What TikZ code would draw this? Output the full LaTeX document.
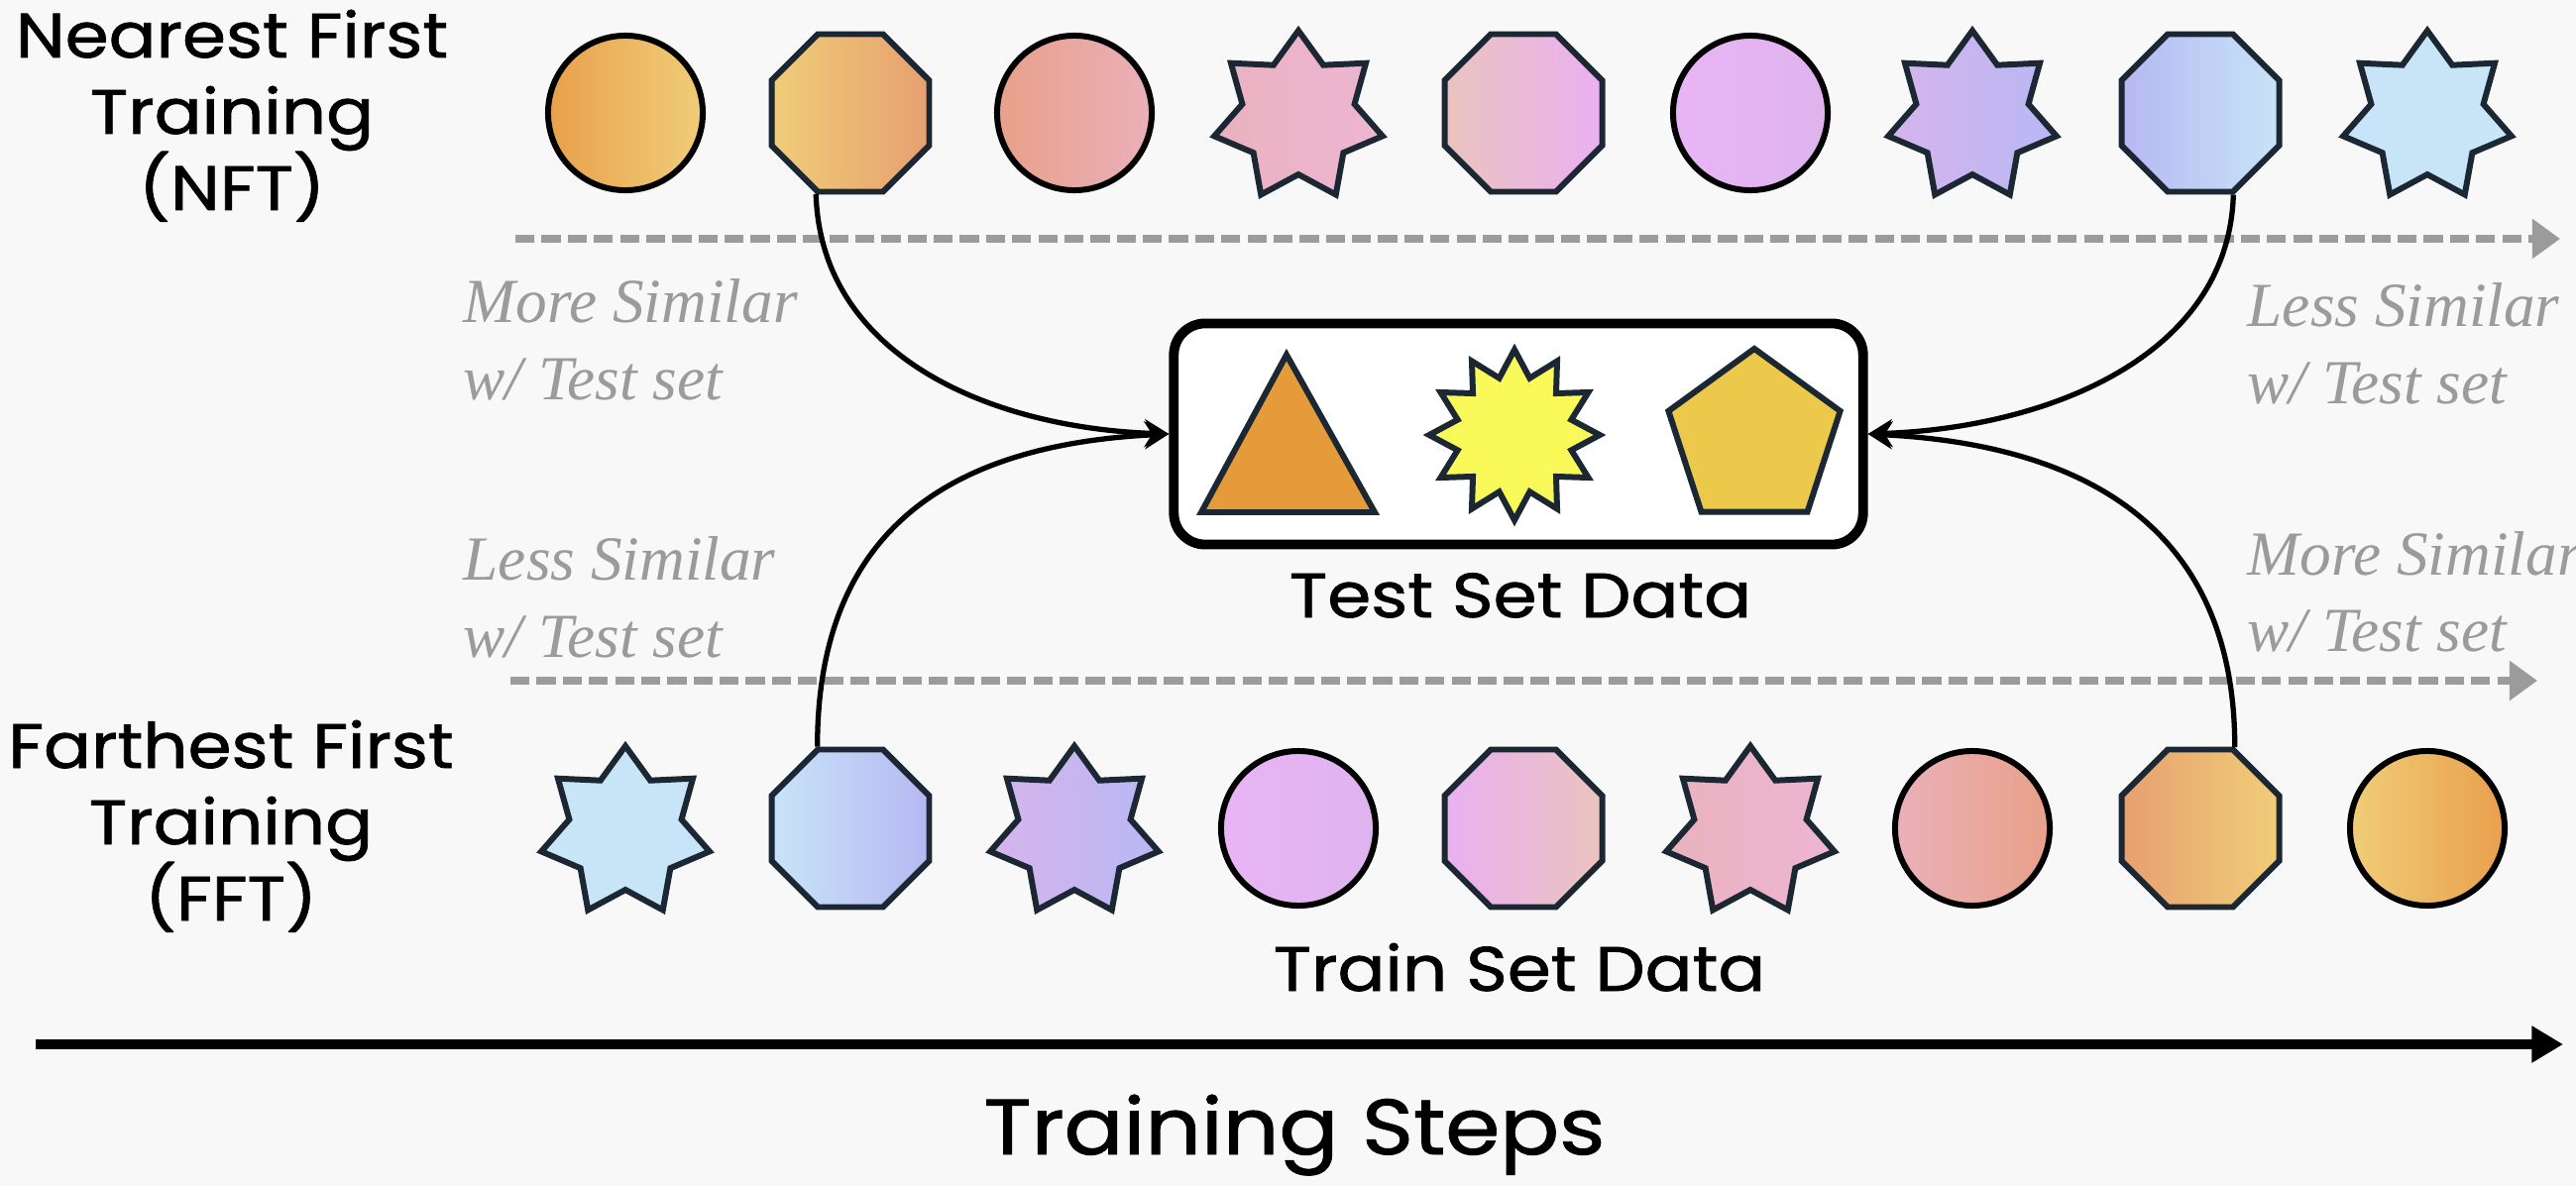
\documentclass[tikz,border=0pt]{standalone}
\usepackage{fontspec}
\usetikzlibrary{shapes.geometric, arrows.meta}
\newfontfamily\handfont{Poppins}[FakeBold=1.2, FakeStretch=1.12]
\newfontfamily\simfont{Liberation Serif}
\definecolor{bgc}{HTML}{F8F8F8}
\definecolor{edgec}{HTML}{1B2733}
\definecolor{simgray}{HTML}{9B9B9B}
\definecolor{cOrange}{HTML}{E9A04C}
\definecolor{cYellow}{HTML}{F0CD78}
\definecolor{cSalmonA}{HTML}{E6A070}
\definecolor{cSalmonB}{HTML}{E8A088}
\definecolor{cPinkA}{HTML}{EAB0BA}
\definecolor{cPinkB}{HTML}{EAB2BE}
\definecolor{cPinkC}{HTML}{EDB6D2}
\definecolor{cPeach}{HTML}{EAC4BE}
\definecolor{cViolA}{HTML}{EAB0F2}
\definecolor{cViolB}{HTML}{E9B4F5}
\definecolor{cViolC}{HTML}{DEB4EE}
\definecolor{cLavA}{HTML}{D6B4EC}
\definecolor{cLavB}{HTML}{B8B8F4}
\definecolor{cBlueA}{HTML}{B6B8F2}
\definecolor{cBlueB}{HTML}{C8E4F8}
\definecolor{cBlueC}{HTML}{C8E6F8}
\definecolor{triC}{HTML}{E69B3A}
\definecolor{burstC}{HTML}{F9F95A}
\definecolor{pentC}{HTML}{ECC94A}
\tikzset{
  shp/.style={draw=edgec, line width=1.7pt, inner sep=0pt},
  circ/.style={shp, draw=black, circle, minimum size=1.56cm},
  octa/.style={shp, regular polygon, regular polygon sides=8, minimum size=1.72cm},
  starr/.style={shp, star, star points=7, star point ratio=1.5, minimum size=1.74cm},
  grad/.style 2 args={left color=#1, right color=#2},
  hand/.style={font=\handfont\fontsize{18}{21}\selectfont, anchor=base, inner sep=0pt},
  sim/.style={font=\simfont\itshape\fontsize{18}{21}\selectfont, text=simgray, anchor=base west, inner sep=0pt},
  simarrow/.style={draw=simgray, line width=2pt, dash pattern=on 5.5pt off 2pt, -{Triangle[length=8pt,width=11pt]}},
  link/.style={draw=black, line width=1.5pt, -{Stealth[length=7pt,width=8pt]}},
}
\begin{document}
\begin{tikzpicture}[x=0.01cm, y=-0.01cm]
\useasboundingbox (0,0) rectangle (2599,1197);
\fill[bgc] (0,0) rectangle (2599,1197);

% left labels
\node[hand] (nft1) at (234,58) {Nearest First};
\node[hand] (nft2) at (234,135) {Training};
\node[hand] (nft3) at (234,212) {(NFT)};
\node[hand] (fft1) at (233,775) {Farthest First};
\node[hand] (fft2) at (233,852) {Training};
\node[hand] (fft3) at (233,929) {(FFT)};

% top row (NFT)
\node[circ, grad={cOrange}{cYellow}] (t1) at (631,114) {};
\node[octa, grad={cYellow}{cSalmonA}] (t2) at (858,114) {};
\node[circ, grad={cSalmonB}{cPinkA}] (t3) at (1084,114) {};
\node[starr, grad={cPinkB}{cPinkC}] (t4) at (1310,118) {};
\node[octa, grad={cPeach}{cViolA}] (t5) at (1537,114) {};
\node[circ, grad={cViolB}{cViolC}] (t6) at (1766,114) {};
\node[starr, grad={cLavA}{cLavB}] (t7) at (1990,118) {};
\node[octa, grad={cBlueA}{cBlueB}] (t8) at (2220,114) {};
\node[starr, grad={cBlueB}{cBlueC}] (t9) at (2449,118) {};

% bottom row (FFT)
\node[starr, grad={cBlueC}{cBlueB}] (b1) at (631,840) {};
\node[octa, grad={cBlueB}{cBlueA}] (b2) at (858,836) {};
\node[starr, grad={cLavA}{cLavB}] (b3) at (1084,840) {};
\node[circ, grad={cViolB}{cViolC}] (b4) at (1310,836) {};
\node[octa, grad={cViolA}{cPeach}] (b5) at (1537,836) {};
\node[starr, grad={cPinkB}{cPinkC}] (b6) at (1766,840) {};
\node[circ, grad={cPinkA}{cSalmonB}] (b7) at (1990,836) {};
\node[octa, grad={cSalmonA}{cYellow}] (b8) at (2220,836) {};
\node[circ, grad={cYellow}{cOrange}] (b9) at (2449,836) {};

% dashed similarity arrows
\coordinate (ds1) at (520,241);
\coordinate (de1) at (2583,241);
\coordinate (ds2) at (515,687);
\coordinate (de2) at (2560,687);
\draw[simarrow] (ds1) -- (de1);
\draw[simarrow] (ds2) -- (de2);

% similarity labels
\node[sim] (s1a) at (467,326) {More Similar};
\node[sim] (s1b) at (467,403) {w/ Test set};
\node[sim] (s2a) at (467,585) {Less Similar};
\node[sim] (s2b) at (467,663) {w/ Test set};
\node[sim] (s3a) at (2267,330) {Less Similar};
\node[sim] (s3b) at (2267,407) {w/ Test set};
\node[sim] (s4a) at (2267,580) {More Similar};
\node[sim] (s4b) at (2267,657) {w/ Test set};

% test set box
\node[draw=black, fill=white, line width=2.8pt, rounded corners=9pt, minimum width=6.95cm, minimum height=2.23cm] (box) at (1532,438) {};
\draw[shp, fill=triC] (1212,517) -- (1298,358) -- (1387,517) -- cycle;
\node[shp, star, star points=12, star point ratio=1.45, minimum size=1.72cm, fill=burstC] (burst) at (1528,439) {};
\node[shp, regular polygon, regular polygon sides=5, minimum size=1.82cm, fill=pentC] (pent) at (1770,443) {};
\node[hand] (testlbl) at (1534,623) {Test Set Data};

% connectors
\draw[link] (t2.247.5) .. controls +(5,165) and +(-178,-6) .. (box.west);
\draw[link] (t8.292.5) .. controls +(-5,165) and +(178,-6) .. (box.east);
\draw[link] (b2.112.5) .. controls +(0,-235) and +(-200,10) .. (box.west);
\draw[link] (b8.67.5) .. controls +(0,-235) and +(200,10) .. (box.east);

\node[hand] (trainlbl) at (1533,1000) {Train Set Data};

% training steps axis
\coordinate (ax0) at (36,1054);
\coordinate (ax1) at (2586,1054);
\draw[line width=3pt, -{Triangle[length=9pt,width=10pt]}] (ax0) -- (ax1);
\node[hand, font=\handfont\fontsize{22.5}{27}\selectfont] (steps) at (1306,1165) {Training Steps};
\end{tikzpicture}
\end{document}
